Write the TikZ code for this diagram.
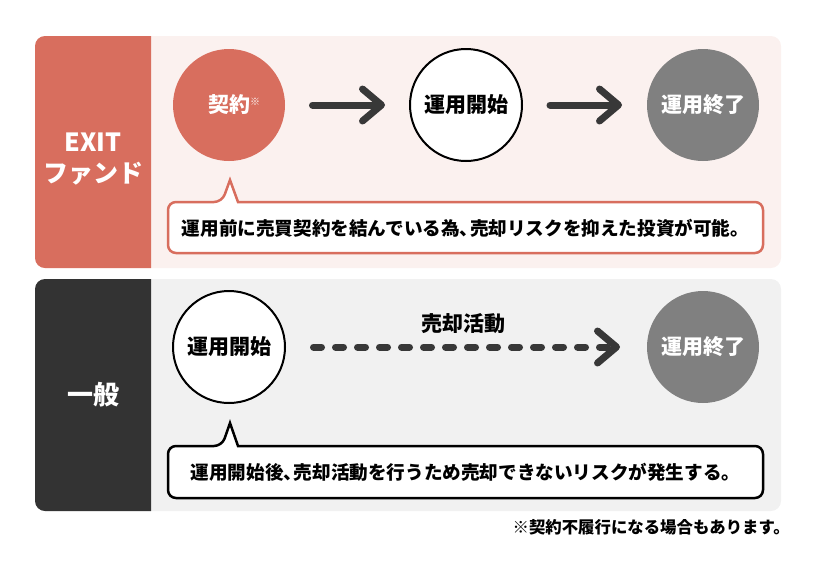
\documentclass[tikz,border=0pt]{standalone}
\usepackage{fontspec}
\setmainfont{Noto Sans CJK JP}
\usetikzlibrary{arrows.meta}
\definecolor{salmon}{HTML}{D86E5E}
\definecolor{pinkbg}{HTML}{FBF1EF}
\definecolor{darklab}{HTML}{333333}
\definecolor{graybg}{HTML}{F1F1F1}
\definecolor{endgray}{HTML}{808080}
\definecolor{arrowc}{HTML}{383838}
\newcommand{\fsz}[1]{\fontsize{#1}{#1}\selectfont}
\newcommand{\hcomma}{\makebox[0.55em][l]{、}}
\begin{document}
\begin{tikzpicture}[x=1pt,y=-1pt,
  circ/.style={circle, minimum size=112pt, inner sep=0pt, outer sep=0pt, font=\bfseries\fsz{21}},
  labtext/.style={text=white, font=\bfseries\fsz{25}, inner sep=0pt},
  flow/.style={line width=7pt, draw=arrowc, line cap=round, -{Straight Barb[length=19pt,width=32pt,round]}},
  dflow/.style={flow, dash pattern=on 8pt off 14pt},
  calltext/.style={font=\bfseries\fsz{18.6}, inner sep=0pt},
  callbox/.style={line width=2.5pt, fill=white}]
\useasboundingbox (0,0) rectangle (814,566);
% top panel
\fill[pinkbg, rounded corners=10pt] (35,36) rectangle (781,268);
\begin{scope}
  \clip (35,36) rectangle (151,268);
  \fill[salmon, rounded corners=10pt] (35,36) rectangle (781,268);
\end{scope}
% bottom panel
\fill[graybg, rounded corners=10pt] (35,279) rectangle (781,511);
\begin{scope}
  \clip (35,279) rectangle (151,511);
  \fill[darklab, rounded corners=10pt] (35,279) rectangle (781,511);
\end{scope}
% labels
\node[labtext] (exitA) at (93,142) {EXIT};
\node[labtext] (exitB) at (93,174) {ファンド};
\node[labtext, font=\bfseries\fsz{26}] (ippan) at (93,395) {一般};
% top circles
\node[circ, fill=salmon, text=white] (c1) at (229,105) {契約\rlap{\raisebox{7pt}{\fsz{10}※}}};
\node[circ, fill=white, draw=black, line width=2pt] (c2) at (466,105) {運用開始};
\node[circ, fill=endgray, text=white] (c3) at (703,105) {運用終了};
\draw[flow, shorten <=27.5pt, shorten >=25pt] (c1) -- (c2);
\draw[flow, shorten <=28pt, shorten >=25pt] (c2) -- (c3);
% top callout
\draw[callbox, draw=salmon] (238,202) [rounded corners=8pt] -- (763,202) -- (763,253) -- (168,253) -- (168,202) -- (222,202) [sharp corners] -- (230,180) -- cycle;
\node[calltext] (t1) at (465.5,228) {運用前に売買契約を結んでいる為\hcomma 売却リスクを抑えた投資が可能。};
% bottom circles
\node[circ, fill=white, draw=black, line width=2pt] (d1) at (229,347) {運用開始};
\node[circ, fill=endgray, text=white] (d2) at (703,347) {運用終了};
\draw[dflow, shorten <=28.5pt, shorten >=27pt] (d1) -- (d2);
\node[font=\bfseries\fsz{21}, inner sep=0pt] (sell) at (463,324) {売却活動};
% bottom callout
\draw[callbox, draw=black] (238,446) [rounded corners=8pt] -- (763,446) -- (763,498) -- (168,498) -- (168,446) -- (222,446) [sharp corners] -- (230,423) -- cycle;
\node[calltext] (t2) at (465.5,472) {運用開始後\hcomma 売却活動を行うため売却できないリスクが発生する。};
% footnote
\node[font=\bfseries\fsz{16.4}, anchor=east, inner sep=0pt] (fn) at (790,527) {※契約不履行になる場合もあります。};
\end{tikzpicture}
\end{document}
